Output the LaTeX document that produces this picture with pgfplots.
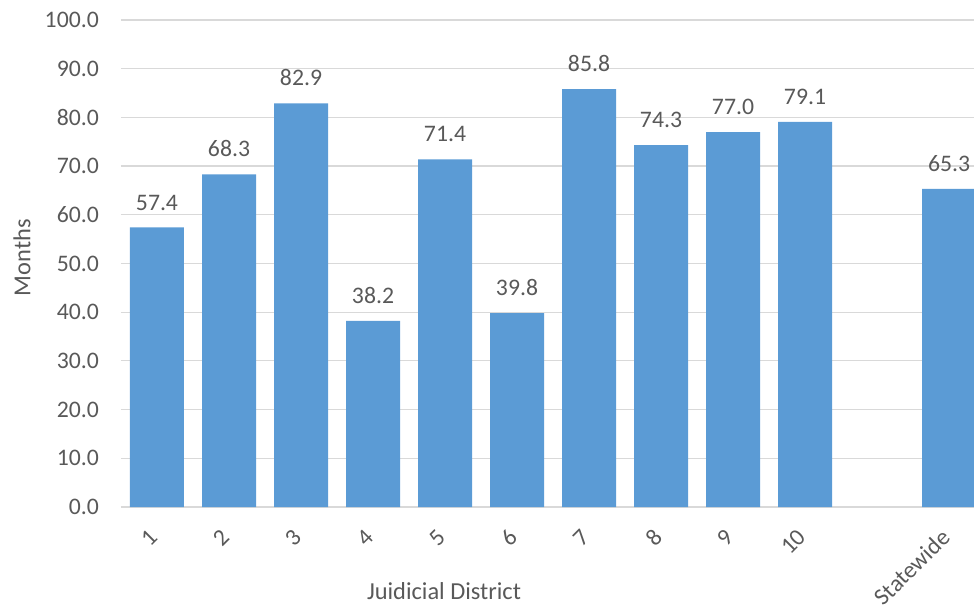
\documentclass[border=0pt]{standalone}
\usepackage{pgfplots}
\pgfplotsset{compat=1.18}
\usepackage{fontspec}
\setmainfont{Carlito}
\definecolor{barblue}{HTML}{5B9BD5}
\definecolor{txtgray}{HTML}{595959}
\definecolor{gridgray}{HTML}{D9D9D9}
\begin{document}
\begin{tikzpicture}
\begin{axis}[
  name=ax,
  at={(0,0)}, anchor=south west,
  scale only axis,
  width=853bp, height=487bp,
  xmin=0.5, xmax=12.347,
  ymin=0, ymax=100,
  ytick={0,10,...,100},
  xtick={1,2,3,4,5,6,7,8,9,10,12},
  xticklabels={1,2,3,4,5,6,7,8,9,10,Statewide},
  yticklabel style={/pgf/number format/fixed, /pgf/number format/fixed zerofill, /pgf/number format/precision=1, /pgf/number format/assume math mode=true},
  font=\fontsize{23.8}{28}\selectfont,
  tick label style={text=txtgray, font=\fontsize{23.8}{28}\selectfont},
  yticklabel style={anchor=east, inner sep=0pt, xshift=-22bp},
  xticklabel style={rotate=45, anchor=east, inner sep=0pt, xshift=-17.7bp, yshift=-13.4bp},
  axis x line*=bottom, axis y line*=left,
  y axis line style={draw=none},
  x axis line style={draw=gridgray, line width=2.2bp, -},
  tick style={draw=none},
  ymajorgrids,
  major grid style={draw=gridgray, line width=1.2bp},
  ybar, bar width=0.75,
  clip=true,
  nodes near coords={\pgfmathprintnumber[fixed,fixed zerofill,precision=1,assume math mode=true]{\pgfplotspointmeta}},
  nodes near coords style={anchor=south, inner sep=0pt, yshift=17bp, text=txtgray, font=\fontsize{23.8}{28}\selectfont},
  xlabel={Juidicial District},
  ylabel={Months},
  xlabel style={at={(axis description cs:0.3787,-0.1725)}, anchor=center, text=txtgray, font=\fontsize{24.5}{28}\selectfont},
  ylabel style={at={(axis description cs:-0.116,0.512)}, anchor=center, rotate=0, text=txtgray, font=\fontsize{24.5}{28}\selectfont},
]
\addplot[fill=barblue, draw=none] coordinates {
  (1,57.4) (2,68.3) (3,82.9) (4,38.2) (5,71.4) (6,39.8) (7,85.8) (8,74.3) (9,77.0) (10,79.1) (12,65.3)
};
\end{axis}
\pgfresetboundingbox
\path (-121bp,-98bp) rectangle (853bp,507bp);
\end{tikzpicture}
\end{document}
